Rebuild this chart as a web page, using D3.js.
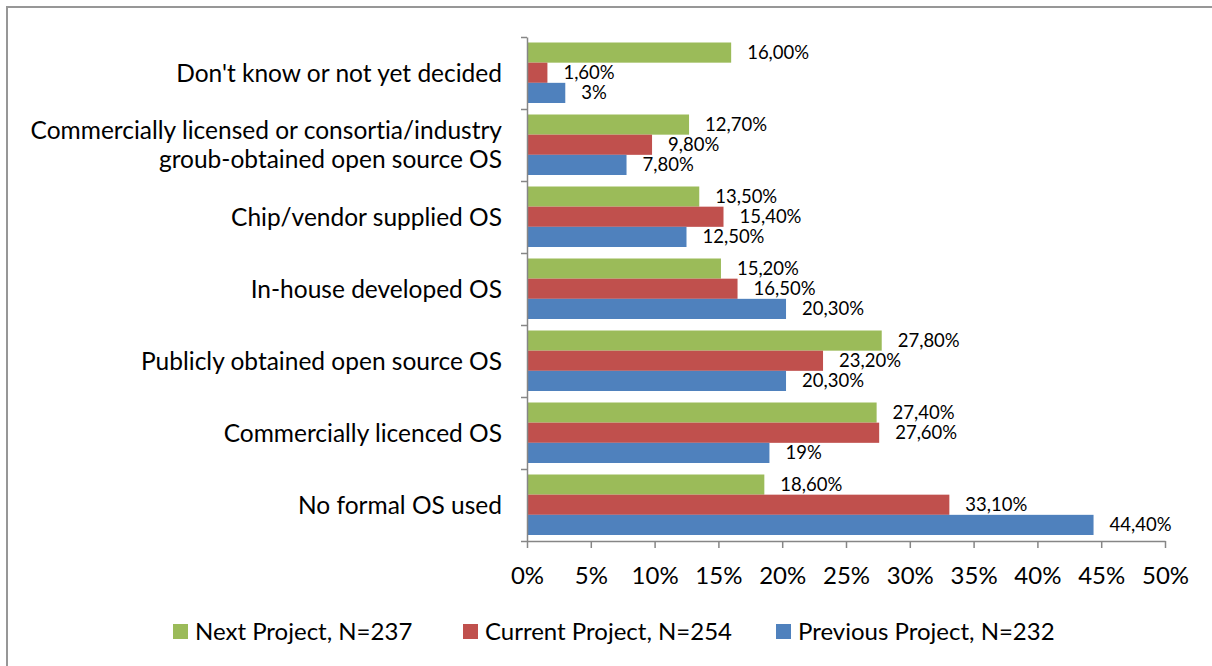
<!DOCTYPE html>
<html>
<head>
<meta charset="utf-8">
<script src="https://cdn.jsdelivr.net/npm/d3@7"></script>
<style>
  body { margin: 0; background: #fff; }
  svg { display: block; font-family: Lato, "Open Sans", sans-serif; font-variant-ligatures: none; }
</style>
</head>
<body>
<svg id="chart" width="1212" height="666"></svg>
<script>
// categories top to bottom, each may wrap on several lines
const categories = [
  ["Don't know or not yet decided"],
  ["Commercially licensed or consortia/industry", "groub-obtained open source OS"],
  ["Chip/vendor supplied OS"],
  ["In-house developed OS"],
  ["Publicly obtained open source OS"],
  ["Commercially licenced OS"],
  ["No formal OS used"]
];
const seriesNames = ["Next Project, N=237", "Current Project, N=254", "Previous Project, N=232"];
const nextProject = [16.0, 12.7, 13.5, 15.2, 27.8, 27.4, 18.6];
const currentProject = [1.6, 9.8, 15.4, 16.5, 23.2, 27.6, 33.1];
const previousProject = [3, 7.8, 12.5, 20.3, 20.3, 19, 44.4];
// data labels as printed on the chart
const nextLabels = ["16,00%", "12,70%", "13,50%", "15,20%", "27,80%", "27,40%", "18,60%"];
const currentLabels = ["1,60%", "9,80%", "15,40%", "16,50%", "23,20%", "27,60%", "33,10%"];
const previousLabels = ["3%", "7,80%", "12,50%", "20,30%", "20,30%", "19%", "44,40%"];
const xTicks = [0, 5, 10, 15, 20, 25, 30, 35, 40, 45, 50];
const colors = ["#9bbb59", "#c0504d", "#4f81bd"];

const series = [nextProject, currentProject, previousProject];
const labels = [nextLabels, currentLabels, previousLabels];

let svg = d3.select('#chart');

// outer frame, right and bottom edges fall outside the picture
svg.append('rect')
  .attr('x', 7).attr('y', 7)
  .attr('width', 1300).attr('height', 800)
  .attr('fill', 'none')
  .attr('stroke', '#979797')
  .attr('stroke-width', 2);

let xScale = d3.scaleLinear().domain([0, 50]).range([527, 1165]);
let catIdx = categories.map((c, i) => i);
let y0 = d3.scaleBand().domain(catIdx).range([37, 541]);
let y1 = d3.scaleBand().domain([0, 1, 2]).range([5.5, 66]);
let yLin = d3.scaleLinear().domain([0, categories.length]).range([37, 541]);

// bars
let groups = svg.append('g').selectAll('g')
  .data(catIdx)
  .join('g')
  .attr('transform', i => `translate(0,${y0(i)})`);

groups.selectAll('rect')
  .data(i => series.map((s, k) => ({k: k, v: s[i], t: labels[k][i]})))
  .join('rect')
  .attr('x', xScale(0))
  .attr('y', d => y1(d.k))
  .attr('width', d => xScale(d.v) - xScale(0))
  .attr('height', y1.bandwidth())
  .attr('fill', d => colors[d.k]);

groups.selectAll('text')
  .data(i => series.map((s, k) => ({k: k, v: s[i], t: labels[k][i]})))
  .join('text')
  .attr('x', d => xScale(d.v) + 16)
  .attr('y', d => y1(d.k) + y1.bandwidth() / 2)
  .attr('dy', '0.35em')
  .attr('font-size', 18.5)
  .attr('fill', '#000')
  .text(d => d.t);

// y axis: ticks between categories
let yAxis = d3.axisLeft(yLin).tickValues(d3.range(categories.length + 1)).tickFormat('').tickSize(6).tickSizeOuter(0);
let yG = svg.append('g').attr('transform', `translate(${xScale(0)},0)`).call(yAxis);
yG.selectAll('path, line').attr('stroke', '#868686').attr('stroke-width', 1.5);

// category labels
let lab = svg.append('g').selectAll('text')
  .data(catIdx)
  .join('text')
  .attr('text-anchor', 'end')
  .attr('font-size', 24.5)
  .attr('fill', '#000')
  .attr('x', 502)
  .attr('y', i => y0(i) + y0.bandwidth() / 2);
lab.selectAll('tspan')
  .data(i => categories[i].map((t, j, arr) => ({t: t, off: (j - (arr.length - 1) / 2) * 29})))
  .join('tspan')
  .attr('x', 502)
  .attr('dy', (d, j) => j == 0 ? d.off + 8.5 : 29)
  .text(d => d.t);

// x axis
let xAxis = d3.axisBottom(xScale).tickValues(xTicks).tickSize(7).tickSizeOuter(0).tickFormat(d => d + '%');
let xG = svg.append('g').attr('transform', 'translate(0,541)').call(xAxis);
xG.selectAll('path, line').attr('stroke', '#868686').attr('stroke-width', 1.5);
xG.selectAll('text')
  .attr('font-family', 'Lato, sans-serif')
  .attr('font-size', 24)
  .attr('fill', '#000')
  .attr('y', 42.5).attr('dy', 0);

// legend
const legendX = [173, 463, 776];
let leg = svg.append('g').selectAll('g')
  .data(seriesNames)
  .join('g')
  .attr('transform', (d, i) => `translate(${legendX[i]},624)`);
leg.append('rect').attr('width', 15).attr('height', 15).attr('fill', (d, i) => colors[i]);
leg.append('text')
  .attr('x', 22).attr('y', 7.5).attr('dy', '0.35em')
  .attr('font-size', 24).attr('fill', '#000')
  .text(d => d);
</script>
</body>
</html>
